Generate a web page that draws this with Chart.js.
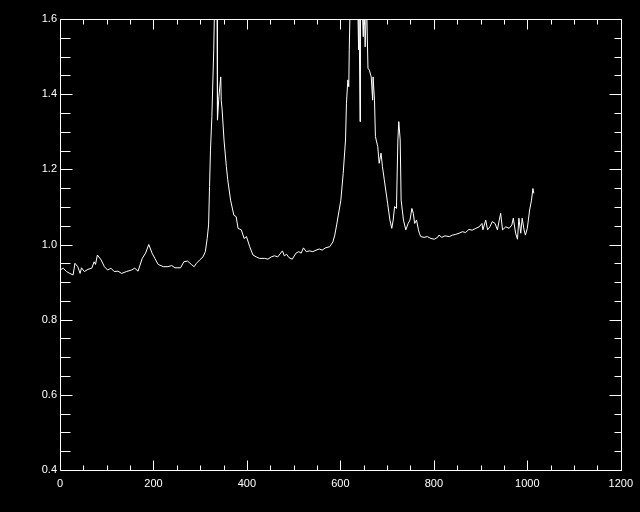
<!DOCTYPE html>
<html>
<head>
<meta charset="utf-8">
<title>Spectrum</title>
<script src="https://cdn.jsdelivr.net/npm/chart.js@4/dist/chart.umd.min.js"></script>
<style>
  html, body { margin: 0; padding: 0; background: #000; }
  #wrap { width: 640px; height: 512px; }
</style>
</head>
<body>
<div id="wrap"><canvas id="spectrum" width="640" height="512"></canvas></div>
<script>
// -------------------------------
// Data
// -------------------------------
const xValues = [
  0, 7, 14, 21, 28, 32, 38, 43, 46, 52, 60, 68, 73, 76, 80, 88, 95, 102, 109, 116,
  124, 132, 142, 153, 160, 167, 176, 183, 190, 197, 203, 210, 221, 231, 239, 246, 258, 265, 273, 281,
  287, 292, 299, 306, 311, 315, 318, 320, 322, 325, 329, 331, 336, 337, 340, 344, 345, 347, 351, 356,
  359, 365, 372, 377, 381, 388, 394, 399, 406, 413, 420, 427, 438, 445, 452, 459, 466, 476, 480, 485,
  490, 497, 505, 511, 516, 521, 527, 534, 541, 548, 555, 561, 568, 577, 584, 588, 592, 601, 606, 611,
  613, 616, 618, 619, 621, 637, 639, 640, 641, 642, 643, 646, 649, 651, 653, 656, 659, 662, 666, 669,
  670, 673, 675, 680, 683, 687, 690, 694, 701, 706, 710, 713, 716, 720, 723, 725, 728, 730, 735, 740,
  745, 749, 753, 756, 759, 763, 767, 769, 772, 779, 786, 794, 801, 808, 811, 817, 824, 833, 840, 847,
  854, 861, 868, 875, 882, 890, 897, 903, 905, 911, 915, 920, 925, 931, 936, 940, 943, 947, 954, 961,
  967, 970, 975, 979, 982, 986, 989, 993, 996, 1000, 1005, 1009, 1012, 1014
];

const yValues = [
  0.932, 0.937, 0.928, 0.923, 0.919, 0.950, 0.941, 0.923, 0.938, 0.928, 0.934, 0.937, 0.954, 0.947, 0.972, 0.959, 0.941, 0.932, 0.937, 0.928,
  0.929, 0.923, 0.928, 0.932, 0.937, 0.929, 0.963, 0.977, 1.000, 0.977, 0.963, 0.947, 0.941, 0.941, 0.944, 0.938, 0.938, 0.954, 0.956, 0.947,
  0.941, 0.950, 0.959, 0.967, 0.981, 1.016, 1.052, 1.154, 1.251, 1.340, 1.518, 1.650, 1.650, 1.331, 1.393, 1.446, 1.384, 1.358, 1.278, 1.207,
  1.172, 1.118, 1.078, 1.074, 1.043, 1.039, 1.016, 1.021, 0.994, 0.972, 0.967, 0.963, 0.963, 0.961, 0.967, 0.970, 0.967, 0.983, 0.970, 0.974,
  0.965, 0.961, 0.977, 0.981, 0.977, 0.991, 0.981, 0.983, 0.981, 0.985, 0.988, 0.985, 0.991, 0.994, 1.007, 1.025, 1.052, 1.118, 1.189, 1.278,
  1.376, 1.438, 1.420, 1.518, 1.650, 1.650, 1.518, 1.650, 1.650, 1.327, 1.650, 1.650, 1.553, 1.650, 1.526, 1.650, 1.469, 1.464, 1.446, 1.384,
  1.446, 1.384, 1.287, 1.260, 1.216, 1.243, 1.207, 1.172, 1.110, 1.065, 1.043, 1.065, 1.101, 1.096, 1.278, 1.327, 1.278, 1.118, 1.065, 1.039,
  1.056, 1.065, 1.096, 1.083, 1.056, 1.065, 1.039, 1.030, 1.021, 1.019, 1.021, 1.016, 1.014, 1.019, 1.025, 1.019, 1.023, 1.021, 1.025, 1.027,
  1.030, 1.034, 1.032, 1.040, 1.038, 1.043, 1.047, 1.056, 1.039, 1.065, 1.039, 1.047, 1.061, 1.056, 1.039, 1.065, 1.083, 1.039, 1.047, 1.043,
  1.052, 1.070, 1.030, 1.014, 1.070, 1.030, 1.070, 1.039, 1.025, 1.043, 1.092, 1.118, 1.149, 1.136
];

// axis ranges / ticks
const xTicks = [0, 200, 400, 600, 800, 1000, 1200];
const yTicks = [0.4, 0.6, 0.8, 1.0, 1.2, 1.4, 1.6];
const xMinorStep = 50;
const yMinorStep = 0.05;

// -------------------------------
// IDL style frame + inward ticks
// -------------------------------
const idlFrame = {
  id: "idlFrame",
  beforeDraw(chart) {
    const ctx = chart.ctx;
    ctx.save();
    ctx.fillStyle = "#000";
    ctx.fillRect(0, 0, chart.width, chart.height);
    ctx.restore();
  },
  afterDraw(chart) {
    const { ctx, chartArea: a, scales } = chart;
    const xs = scales.x, ys = scales.y;
    const L = Math.round(a.left) + 0.5, R = Math.round(a.right) + 0.5;
    const T = Math.round(a.top) + 0.5, B = Math.round(a.bottom) + 0.5;

    ctx.save();
    ctx.strokeStyle = "#fff";
    ctx.lineWidth = 1;
    ctx.beginPath();
    ctx.rect(L, T, R - L, B - T);

    // x ticks, bottom and top
    for (let v = xTicks[0]; v <= xTicks[xTicks.length - 1] + 1e-6; v += xMinorStep) {
      const major = Math.abs(v % 200) < 1e-6;
      const len = major ? 10 : 5;
      const px = Math.round(xs.getPixelForValue(v)) + 0.5;
      ctx.moveTo(px, B); ctx.lineTo(px, B - len);
      ctx.moveTo(px, T); ctx.lineTo(px, T + len);
    }

    // y ticks, left and right
    for (let i = 0; i * yMinorStep <= 1.2 + 1e-6; i++) {
      const v = yTicks[0] + i * yMinorStep;
      const major = i % 4 === 0;
      const py = Math.round(ys.getPixelForValue(v)) + 0.5;
      ctx.moveTo(L, py); ctx.lineTo(L + (major ? 12 : 10), py);
      ctx.moveTo(R, py); ctx.lineTo(R - (major ? 12 : 7), py);
    }
    ctx.stroke();
    ctx.restore();
  }
};

// -------------------------------
// Chart
// -------------------------------
const points = xValues.map((x, i) => ({ x: x, y: yValues[i] }));
const tickFont = { family: "'Liberation Sans', Arial, sans-serif", size: 11 };

new Chart(document.getElementById("spectrum"), {
  type: "line",
  data: {
    datasets: [
      {
        data: points,
        borderColor: "#fff",
        borderWidth: 1,
        pointRadius: 0,
        tension: 0,
        fill: false
      }
    ]
  },
  options: {
    responsive: false,
    animation: false,
    layout: { padding: { left: 0, right: 18, top: 19, bottom: 0 } },
    plugins: { legend: { display: false }, tooltip: { enabled: false } },
    scales: {
      x: {
        type: "linear",
        min: xTicks[0],
        max: xTicks[xTicks.length - 1],
        afterBuildTicks: s => { s.ticks = xTicks.map(v => ({ value: v })); },
        afterFit: s => { s.height = 42; },
        grid: { display: false, drawTicks: false },
        border: { display: false },
        ticks: { color: "#fff", font: tickFont, padding: 7, maxRotation: 0, autoSkip: false,
                 callback: v => String(v) }
      },
      y: {
        type: "linear",
        min: yTicks[0],
        max: yTicks[yTicks.length - 1],
        afterBuildTicks: s => { s.ticks = yTicks.map(v => ({ value: v })); },
        afterFit: s => { s.width = 60; },
        grid: { display: false, drawTicks: false },
        border: { display: false },
        ticks: { color: "#fff", font: tickFont, padding: 3, autoSkip: false,
                 callback: v => Number(v).toFixed(1) }
      }
    }
  },
  plugins: [idlFrame]
});
</script>
</body>
</html>
